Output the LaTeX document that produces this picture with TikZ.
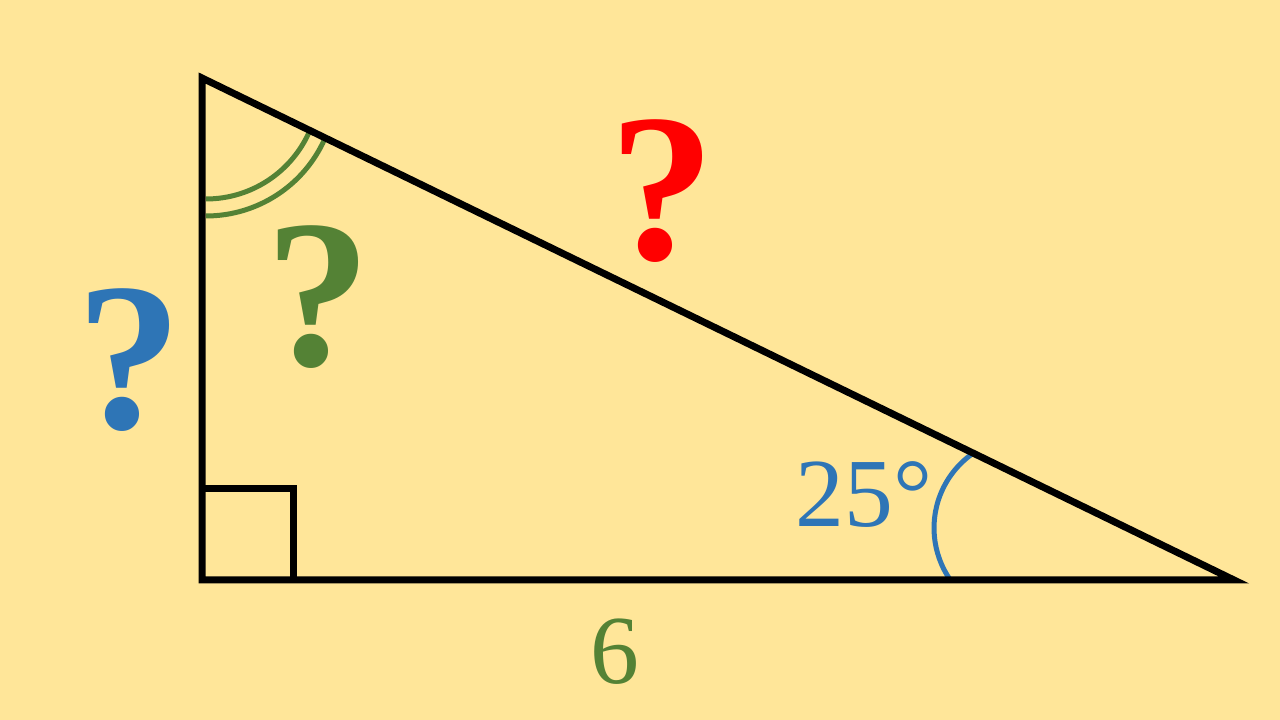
\documentclass[tikz,border=0pt]{standalone}
\usepackage{fontspec}
\setmainfont{Liberation Serif}
\usepackage{tikz}

\definecolor{bgyellow}{HTML}{FFE699}
\definecolor{qred}{HTML}{FF0000}
\definecolor{qgreen}{HTML}{548235}
\definecolor{qblue}{HTML}{2E75B6}

\begin{document}
\begin{tikzpicture}[x=1bp,y=1bp,
    side/.style={line width=7bp},
    anglemark/.style={line width=5bp},
    bigmark/.style={inner sep=0pt, font=\fontsize{212}{212}\selectfont\bfseries},
    numlabel/.style={inner sep=0pt, font=\fontsize{98}{98}\selectfont}]
    % Define background and picture size
    \fill[bgyellow] (0,0) rectangle (1280,720);
    \useasboundingbox (0,0) rectangle (1280,720);

    % Define box size for the right angle
    \def\boxside{91}

    % Corners of the triangle
    \coordinate (top) at (202,642);
    \coordinate (corner) at (202,140);
    \coordinate (tip) at (1234,140);

    % Centres of the angle marks
    \coordinate (topmid) at (206,634);
    \coordinate (tipmid) at (1025,192);

    % Angle marks (drawn first, the sides cover their ends)
    \draw[anglemark, qgreen] (topmid) ++(-90:113) arc (-90:-23.5:113);
    \draw[anglemark, qgreen] (topmid) ++(-90:130) arc (-90:-24:130);
    \draw[anglemark, qblue] (tipmid) ++(215:91) arc (215:123.5:91);

    % Draw the sides
    \draw[side] (top) -- (corner) -- (tip) -- cycle;
    \draw[side] (corner) ++(0,\boxside) -| ++(\boxside,-\boxside);

    % Labels
    \node[bigmark, text=qred] (hyp) at (662,529) {?};
    \node[bigmark, text=qgreen] (topangle) at (318,423) {?};
    \node[bigmark, text=qblue] (height) at (129,360) {?};
    \node[numlabel, text=qblue] (angle) at (864,225) {25°};
    \node[numlabel, text=qgreen] (base) at (615,68) {6};
\end{tikzpicture}
\end{document}
